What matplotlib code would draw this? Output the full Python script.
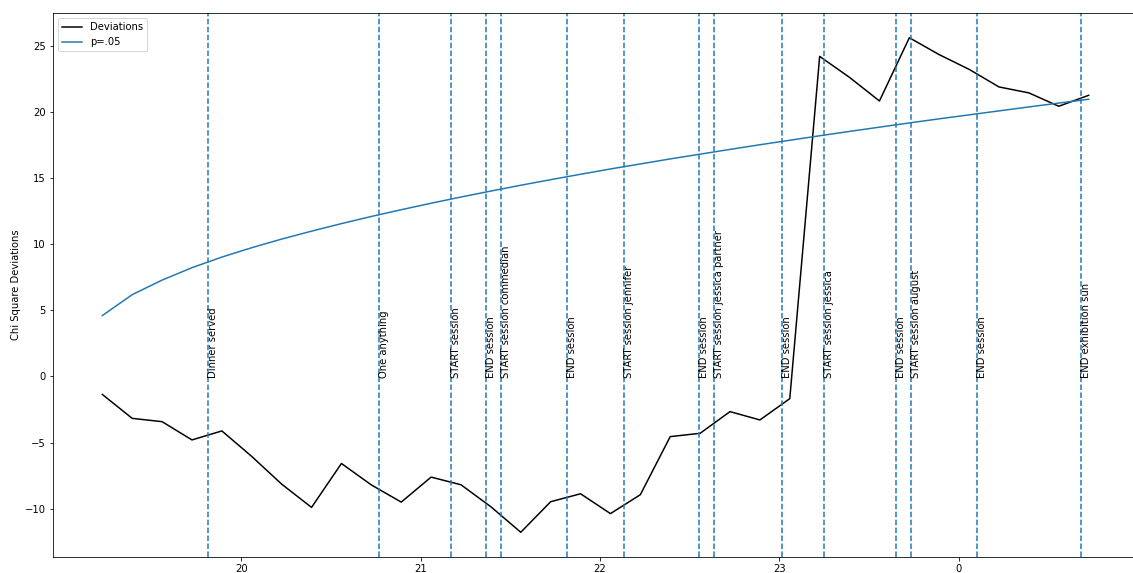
import datetime as dt
import matplotlib
matplotlib.use('Agg')
import matplotlib.pyplot as plt
import matplotlib.dates as mdates
from matplotlib.ticker import FuncFormatter

# sample times (10 minute steps, evening into after midnight)
times = ['19:13:30', '19:23:30', '19:33:30', '19:43:30', '19:53:30', '20:03:30',
         '20:13:30', '20:23:30', '20:33:30', '20:43:30', '20:53:30', '21:03:30',
         '21:13:30', '21:23:30', '21:33:30', '21:43:30', '21:53:30', '22:03:30',
         '22:13:30', '22:23:30', '22:33:30', '22:43:30', '22:53:30', '23:03:30',
         '23:13:30', '23:23:30', '23:33:30', '23:43:30', '23:53:30', '00:03:30',
         '00:13:30', '00:23:30', '00:33:30', '00:43:30']

deviations = [-1.36, -3.17, -3.42, -4.80, -4.12, -6.05, -8.14, -9.90, -6.58, -8.20,
              -9.50, -7.61, -8.19, -9.85, -11.78, -9.47, -8.87, -10.37, -8.94, -4.55,
              -4.30, -2.66, -3.29, -1.68, 24.19, 22.60, 20.82, 25.60, 24.32, 23.21,
              21.88, 21.43, 20.42, 21.25]

p05 = [4.60, 6.18, 7.28, 8.22, 9.02, 9.73, 10.38, 10.98, 11.55, 12.09,
       12.60, 13.09, 13.56, 14.01, 14.45, 14.87, 15.28, 15.68, 16.06, 16.44,
       16.80, 17.16, 17.51, 17.85, 18.19, 18.52, 18.84, 19.16, 19.47, 19.77,
       20.07, 20.37, 20.66, 20.95]

event_times = ['19:49', '20:46', '21:10', '21:22', '21:27', '21:49', '22:08', '22:33',
               '22:38', '23:01', '23:15', '23:39', '23:44', '00:06', '00:41']
event_labels = ['Dinner served', 'One anything', 'START session', 'END session',
                'START session commedian', 'END session', 'START session jennifer',
                'END session', 'START session jessica partner', 'END session',
                'START session jessica', 'END session', 'START session august',
                'END session', 'END exhibition sun']


def to_dt(s):
    parts = [int(p) for p in s.split(':')]
    while len(parts) < 3:
        parts.append(0)
    day = 1 if parts[0] >= 12 else 2
    return dt.datetime(2019, 6, day, parts[0], parts[1], parts[2])


x = [to_dt(t) for t in times]
ev = [to_dt(t) for t in event_times]

fig, ax = plt.subplots(figsize=(1133 / 72, 573 / 72), dpi=72)
# axes runs slightly past the right edge of the picture, as in the original
fig.subplots_adjust(left=53 / 1133, right=1138 / 1133, top=1 - 13 / 573, bottom=16 / 573)

ax.plot(x, deviations, color='k', label='Deviations')
ax.plot(x, p05, color='C0', label='p=.05')

for t, lab in zip(ev, event_labels):
    ax.axvline(t, color='C0', linestyle='--')
    ax.text(t, 0, lab, rotation=90)

ax.xaxis.set_major_locator(mdates.HourLocator(byhour=[20, 21, 22, 23, 0]))
ax.xaxis.set_major_formatter(FuncFormatter(lambda v, pos: str(mdates.num2date(v).hour)))
ax.set_ylabel('Chi Square Deviations')
ax.legend(loc='upper left')

fig.savefig('out.png', dpi=72)
